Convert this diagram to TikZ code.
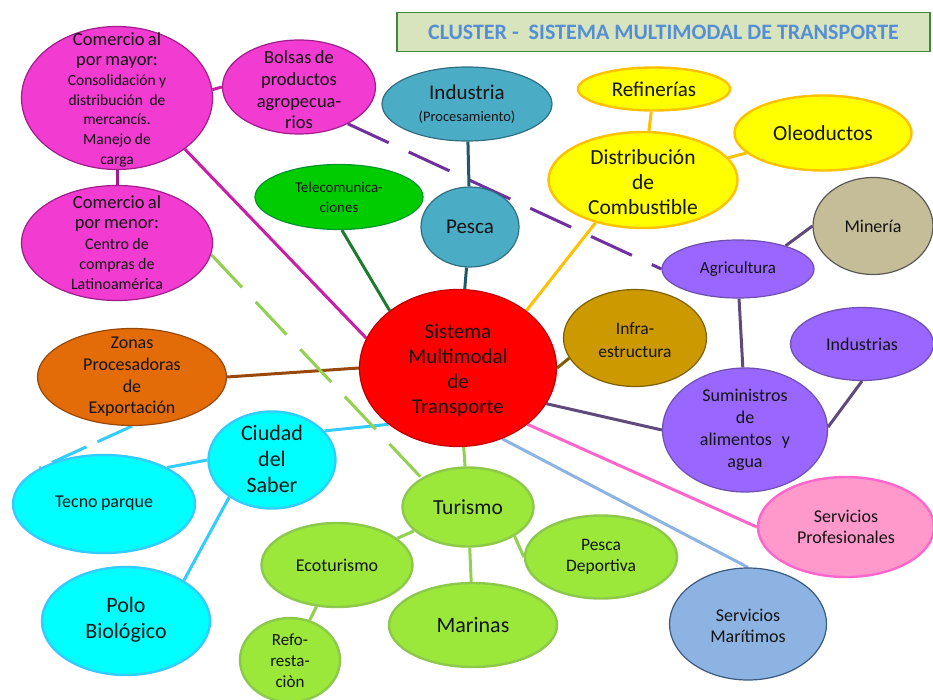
\documentclass[tikz,border=0pt]{standalone}
\usepackage{fontspec}
\setmainfont{Carlito}
\usetikzlibrary{shapes.geometric}
\pgfdeclarelayer{bg}
\pgfdeclarelayer{paper}
\pgfsetlayers{paper,bg,main}
\definecolor{cMag}{HTML}{F23BD0}
\definecolor{cMagD}{HTML}{A01E8C}
\definecolor{cMagL}{HTML}{C81EA8}
\definecolor{cTeal}{HTML}{4BACC6}
\definecolor{cTealD}{HTML}{2F6F82}
\definecolor{cTealL}{HTML}{215968}
\definecolor{cTel}{HTML}{00CC00}
\definecolor{cTelD}{HTML}{00962A}
\definecolor{cTelL}{HTML}{1D7A2E}
\definecolor{cRed}{HTML}{FF0000}
\definecolor{cRedD}{HTML}{C00000}
\definecolor{cYel}{HTML}{FFFF00}
\definecolor{cYelD}{HTML}{FFC000}
\definecolor{cMin}{HTML}{C4BD97}
\definecolor{cMinD}{HTML}{595959}
\definecolor{cPur}{HTML}{9966FF}
\definecolor{cPurD}{HTML}{6E4FB0}
\definecolor{cPurL}{HTML}{604A7B}
\definecolor{cPurDash}{HTML}{7030A0}
\definecolor{cInf}{HTML}{CC9900}
\definecolor{cInfD}{HTML}{7F6000}
\definecolor{cPink}{HTML}{FF99CC}
\definecolor{cPinkD}{HTML}{FF66CC}
\definecolor{cBlu}{HTML}{8DB3E2}
\definecolor{cBluD}{HTML}{3A5A80}
\definecolor{cOra}{HTML}{E36C09}
\definecolor{cOraD}{HTML}{984807}
\definecolor{cCya}{HTML}{00FFFF}
\definecolor{cCyaD}{HTML}{33CCFF}
\definecolor{cLim}{HTML}{9BE83A}
\definecolor{cLimD}{HTML}{8CC84B}
\definecolor{cLimL}{HTML}{92D050}
\definecolor{cTitF}{HTML}{D7E4BD}
\definecolor{cTitD}{HTML}{3B8A3B}
\definecolor{cTitT}{HTML}{558ED5}
\definecolor{cTxt}{HTML}{141414}
\begin{document}
\begin{tikzpicture}[x=1pt,y=-1pt,
  bub/.style 2 args={ellipse, minimum width=#1pt, minimum height=#2pt, inner sep=0pt, line width=1.2pt},
  thick border/.style={line width=2.4pt},
  txt/.style={align=center, inner sep=0pt, text=cTxt, text width=210pt},
  con/.style={line width=3pt},
  longdash/.style={dash pattern=on 45pt off 22pt},
]
\begin{pgfonlayer}{paper}
\fill[white] (0,0) rectangle (933,700);
\end{pgfonlayer}
\useasboundingbox (0,0) rectangle (933,700);

% title
\node[draw=cTitD, fill=cTitF, line width=1.5pt, minimum width=533pt, minimum height=39pt,
      inner sep=0pt, text=cTitT, font=\fontsize{22}{25}\selectfont\bfseries] (tit) at (663.5,32)
      {CLUSTER -\ \ SISTEMA MULTIMODAL DE TRANSPORTE};

% bubbles
\node[bub={191}{143}, fill=cMag, draw=cMagD] (cmay) at (117,98) {};
\node[bub={191}{115}, fill=cMag, draw=cMagD] (cmen) at (117,243) {};
\node[bub={153}{94}, fill=cMag, draw=cMagD] (bol) at (299,87) {};
\node[bub={170}{74}, fill=cTeal, draw=cTealD] (ind) at (467,104) {};
\node[bub={98}{80}, fill=cTeal, draw=cTealD] (pes) at (470,227) {};
\node[bub={168}{65}, fill=cTel, draw=cTelD] (tel) at (339,197) {};
\node[bub={197}{157}, fill=cRed, draw=cRedD] (cen) at (458,368) {};
\node[bub={152}{43}, fill=cYel, draw=cYelD, thick border] (ref) at (654,89) {};
\node[bub={177}{75}, fill=cYel, draw=cYelD, thick border] (ole) at (823,133) {};
\node[bub={189}{96}, fill=cYel, draw=cYelD, thick border] (dis) at (643,180) {};
\node[bub={120}{97}, fill=cMin, draw=cMinD] (min) at (873,226) {};
\node[bub={152}{58}, fill=cPur, draw=cPurD] (agr) at (738,269) {};
\node[bub={143}{97}, fill=cInf, draw=cInfD] (inf) at (635,338) {};
\node[bub={143}{73}, fill=cPur, draw=cPurD] (ids) at (862,344) {};
\node[bub={165}{124}, fill=cPur, draw=cPurD] (sum) at (745,430) {};
\node[bub={176}{100}, fill=cPink, draw=cPinkD, thick border] (spr) at (846,527) {};
\node[bub={157}{112}, fill=cBlu, draw=cBluD] (sma) at (748,624) {};
\node[bub={189}{97}, fill=cOra, draw=cOraD] (zon) at (132,377) {};
\node[bub={127}{97}, fill=cCya, draw=cCyaD, thick border] (ciu) at (272,460) {};
\node[bub={182}{98}, fill=cCya, draw=cCyaD, thick border] (tec) at (104,504) {};
\node[bub={168}{108}, fill=cCya, draw=cCyaD, thick border] (pol) at (126,621) {};
\node[bub={131}{79}, fill=cLim, draw=cLimD, thick border] (tur) at (468,507) {};
\node[bub={151}{84}, fill=cLim, draw=cLimD, thick border] (eco) at (337,565) {};
\node[bub={100}{84}, fill=cLim, draw=cLimD, thick border] (rfo) at (290,660) {};
\node[bub={168}{84}, fill=cLim, draw=cLimD, thick border] (mar) at (473,625) {};
\node[bub={152}{83}, fill=cLim, draw=cLimD, thick border] (pde) at (601,557) {};

% texts
\node[txt] (cmay-t) at (117,100) {\fontsize{18.5}{20}\selectfont Comercio al\\por mayor:\\\fontsize{15.5}{19.7}\selectfont Consolidación y\\distribución\ \ de\\mercancís.\\Manejo de\\carga\par};
\node[txt] (cmen-t) at (117,243) {\fontsize{18.5}{20}\selectfont Comercio al\\por menor:\\\fontsize{16}{20.4}\selectfont Centro de\\compras de\\Latinoamérica\par};
\node[txt] (bol-t) at (299,90) {\fontsize{18.5}{21.7}\selectfont Bolsas de\\productos\\agropecua-\\rios\par};
\node[txt] (ind-t) at (467,104) {\fontsize{21}{22}\selectfont Industria\\\fontsize{14.5}{22}\selectfont (Procesamiento)\par};
\node[txt] (pes-t) at (470,227) {\fontsize{21}{25}\selectfont Pesca\par};
\node[txt] (tel-t) at (339,197) {\fontsize{15}{20}\selectfont Telecomunica-\\ciones\par};
\node[txt] (cen-t) at (458,370) {\fontsize{21}{25}\selectfont Sistema\\Multimodal\\de\\Transporte\par};
\node[txt] (ref-t) at (654,89) {\fontsize{21}{25}\selectfont Refinerías\par};
\node[txt] (ole-t) at (823,133) {\fontsize{21.5}{25}\selectfont Oleoductos\par};
\node[txt] (dis-t) at (643,182) {\fontsize{21.5}{25}\selectfont Distribución\\de\\Combustible\par};
\node[txt] (min-t) at (873,226) {\fontsize{18}{22}\selectfont Minería\par};
\node[txt] (agr-t) at (738,269) {\fontsize{17}{22}\selectfont Agricultura\par};
\node[txt] (inf-t) at (635,340) {\fontsize{17.5}{23}\selectfont Infra-\\estructura\par};
\node[txt] (ids-t) at (862,344) {\fontsize{18}{22}\selectfont Industrias\par};
\node[txt] (sum-t) at (745,430) {\fontsize{18}{22}\selectfont Suministros\\de\\alimentos\ \ \ y\\agua\par};
\node[txt] (spr-t) at (846,527) {\fontsize{18}{21.5}\selectfont Servicios\\Profesionales\par};
\node[txt] (sma-t) at (748,626) {\fontsize{18}{21.5}\selectfont Servicios\\Marítimos\par};
\node[txt] (zon-t) at (132,377) {\fontsize{18}{21.7}\selectfont Zonas\\Procesadoras\\de\\Exportación\par};
\node[txt] (ciu-t) at (272,459) {\fontsize{22}{26}\selectfont Ciudad\\del\\Saber\par};
\node[txt] (tec-t) at (104,503) {\fontsize{18}{22}\selectfont Tecno parque\par};
\node[txt] (pol-t) at (126,620) {\fontsize{22}{26}\selectfont Polo\\Biológico\par};
\node[txt] (tur-t) at (468,507) {\fontsize{21.5}{25}\selectfont Turismo\par};
\node[txt] (eco-t) at (337,565) {\fontsize{18}{22}\selectfont Ecoturismo\par};
\node[txt] (rfo-t) at (290,661) {\fontsize{17}{21}\selectfont Refo-\\resta-\\ciòn\par};
\node[txt] (mar-t) at (473,625) {\fontsize{22}{25}\selectfont Marinas\par};
\node[txt] (pde-t) at (601,557) {\fontsize{17.5}{21.5}\selectfont Pesca\\Deportiva\par};

% connectors
\begin{pgfonlayer}{bg}
\draw[con, cMagD] (cmay) -- (cmen);
\draw[con, cMagL] (cmay.5) -- (bol.west);
\draw[con, cMagL] (cmay.-37) -- (cen.162);
\draw[con, cPurDash, longdash] (bol.-37) -- (agr.west);
\draw[con, cTealL] (ind) -- (pes);
\draw[con, cTealL] (pes) -- (cen);
\draw[con, cTelL] (tel.-85) -- (cen.140);
\draw[con, cYelD] (dis.222) -- (cen.40);
\draw[con, cYelD] (ref) -- (dis);
\draw[con, cYelD] (dis) -- (ole);
\draw[con, cPurL] (agr.26) -- (min.west);
\draw[con, cPurL] (agr.-88) -- (sum.92);
\draw[con, cPurL] (ids.south) -- (sum.2);
\draw[con, cPurL] (cen.-22) -- (sum.west);
\draw[con, cInfD] (cen.east) -- (inf.197);
\draw[con, cPinkD] (cen.-39) -- (spr.west);
\draw[con, cBlu] (cen.-58) -- (sma.north);
\draw[con, cOraD] (zon.east) -- (cen.west);
\draw[con, cCyaD] (ciu.29) -- (cen.219);
\draw[con, cCyaD] (ciu.west) -- (tec.30);
\draw[con, cCyaD] (ciu.221) -- (pol.35);
\draw[con, cCyaD, dash pattern=on 38pt off 12pt] (zon.south) -- (tec.151);
\draw[con, cLimL, dash pattern=on 45pt off 20pt] (cmen.-7) -- (tur.148);
\draw[con, cLimL] (tur) -- (cen);
\draw[con, cLimL] (tur) -- (eco);
\draw[con, cLimL] (tur) -- (mar);
\draw[con, cLimL] (tur.-32) -- (pde.west);
\draw[con, cLimL] (eco) -- (rfo);
\end{pgfonlayer}
\end{tikzpicture}
\end{document}
